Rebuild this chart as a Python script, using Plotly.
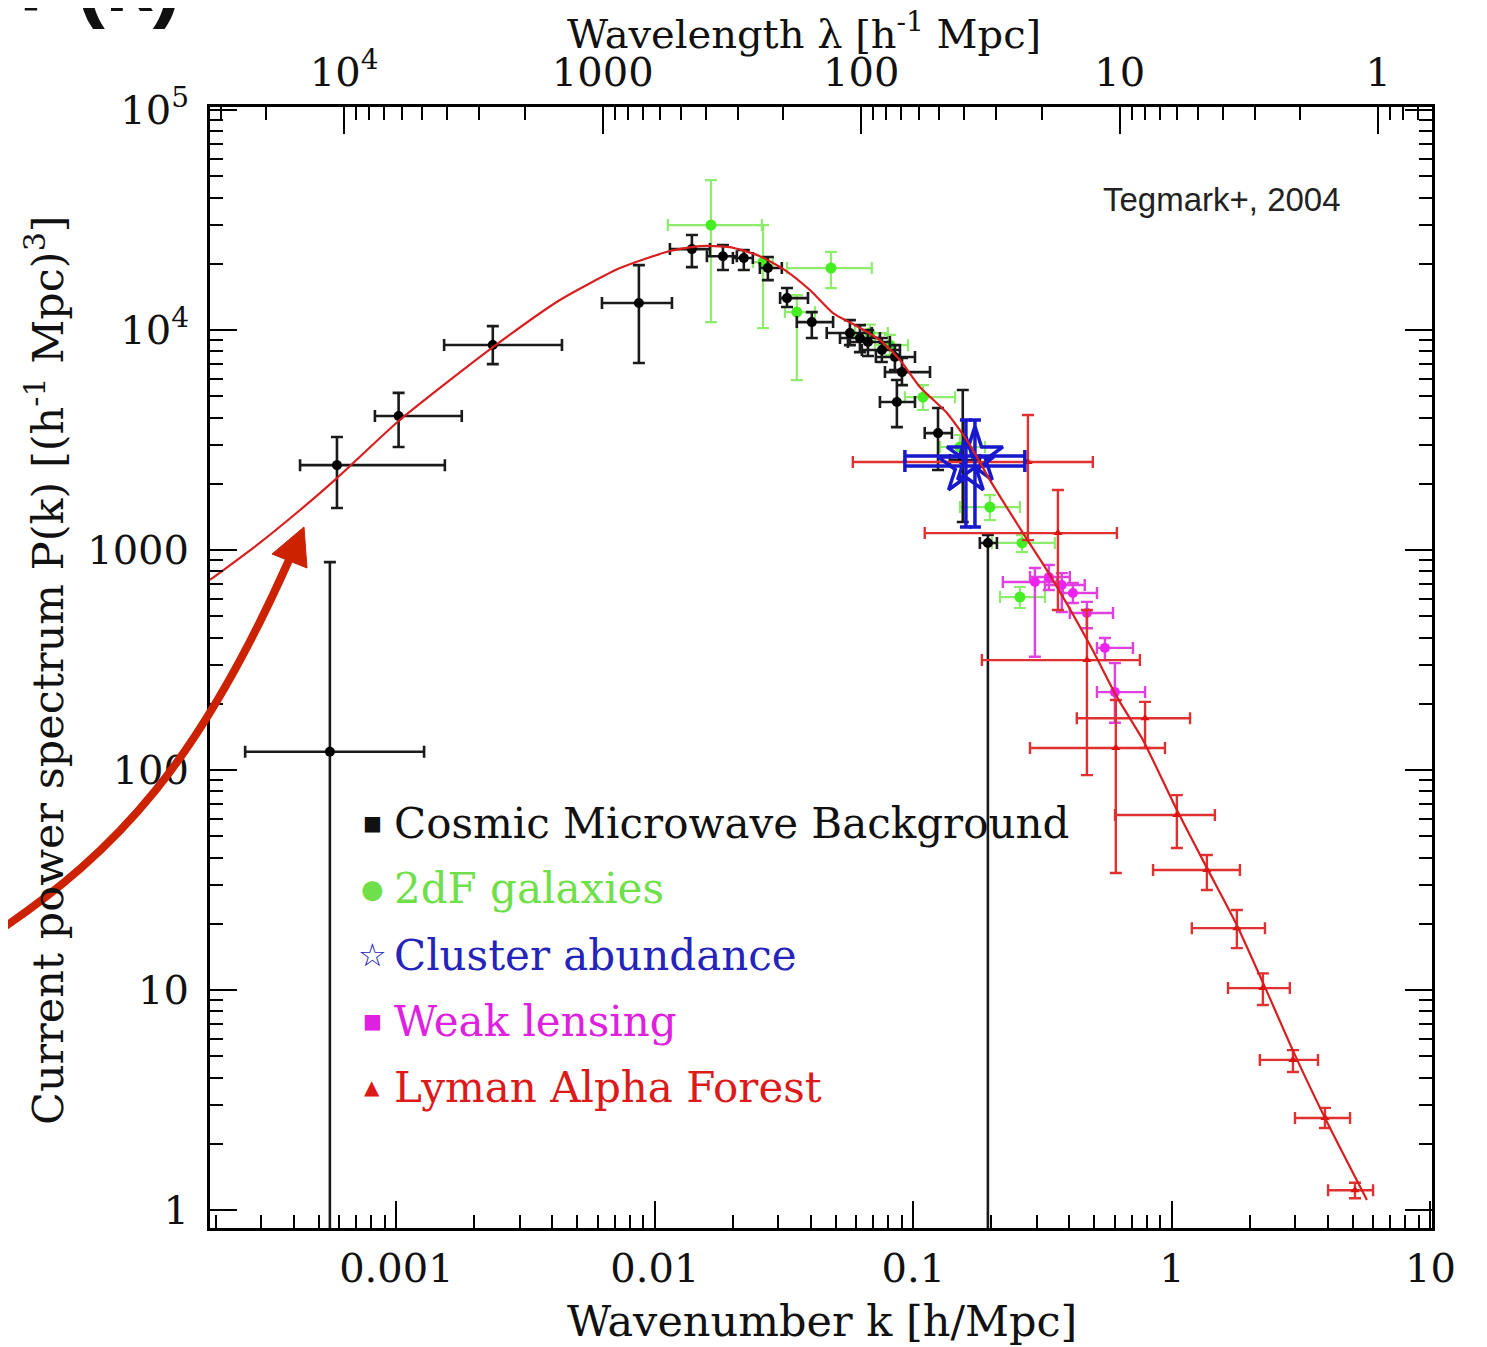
import math
import plotly.graph_objects as go

# ---------------- data ----------------
# Cosmic Microwave Background (black)
cmb_k = [5.53e-4, 5.89e-4, 1.02e-3, 2.36e-3, 8.67e-3, 0.0139, 0.01833, 0.02208, 0.02735, 0.03243,
         0.04045, 0.0568, 0.0621, 0.0667, 0.0755, 0.0848, 0.0903, 0.0863, 0.1245, 0.1552, 0.1941]
cmb_P = [121, 2432, 4065, 8550, 13270, 23330, 21670, 21250, 19140, 13970,
         10870, 9690, 9200, 8820, 8110, 7540, 6440, 4710, 3400, 2564, 1077]
cmb_klo = [2.6e-4, 4.24e-4, 8.26e-4, 1.53e-3, 6.24e-3, 0.01143, 0.01589, 0.02003, 0.02547, 0.0305,
           0.0354, 0.0462, 0.0520, 0.0558, 0.0632, 0.0716, 0.0776, 0.0742, 0.1106, 0.1384, 0.1807]
cmb_khi = [1.28e-3, 1.54e-3, 1.79e-3, 4.37e-3, 0.01164, 0.01633, 0.02075, 0.02393, 0.03097, 0.0391,
           0.0489, 0.0690, 0.0742, 0.0811, 0.0887, 0.1014, 0.1159, 0.1014, 0.1409, 0.1807, 0.2104]
cmb_Plo = [0, 1553, 2940, 7000, 7080, 19320, 18740, 18740, 16870, 12730,
           9200, 8540, 7940, 7620, 7160, 6580, 5620, 3620, 2310, 1340, 0]
cmb_Phi = [881, 3266, 5180, 10420, 19730, 27040, 24330, 23100, 21480, 15520,
           12070, 11100, 10530, 10000, 9200, 8540, 7470, 5925, 4420, 5340, 1170]

# 2dF galaxies (green)
gal_k = [0.01648, 0.02619, 0.04797, 0.0354, 0.0679, 0.0811, 0.1089, 0.1514, 0.1977, 0.2630, 0.2582]
gal_P = [30000, 20380, 19140, 12070, 9690, 8540, 4955, 2940, 1567, 1077, 611]
gal_klo = [0.01122, 0.02393, 0.03243, 0.03183, 0.0594, 0.0710, 0.0927, 0.1268, 0.1514, 0.2014, 0.2163]
gal_khi = [0.02594, 0.02857, 0.0690, 0.0416, 0.0796, 0.0953, 0.1449, 0.1892, 0.2582, 0.3524, 0.3228]
gal_Plo = [10870, 10210, 15520, 5925, 8900, 7700, 4330, 2564, 1368, 979, 545]
gal_Phi = [48060, 30000, 22650, 14420, 10600, 9500, 5620, 3334, 1778, 1170, 679]

# Cluster abundance (blue)
clu_k = [0.1596, 0.1730]
clu_P = [2410, 2675]
clu_klo = [0.0927, 0.0927]
clu_khi = [0.2698, 0.2698]
clu_Plo = [1274, 1274]
clu_Phi = [3900, 3900]

# Weak lensing (magenta)
wl_k = [0.2951, 0.3342, 0.3750, 0.414, 0.469, 0.5504, 0.6017]
wl_P = [716, 754, 693, 638, 517, 359, 226]
wl_klo = [0.2218, 0.2825, 0.3228, 0.3784, 0.4027, 0.5129, 0.5129]
wl_khi = [0.359, 0.4027, 0.460, 0.5129, 0.5916, 0.7063, 0.7871]
wl_Plo = [327, 658, 523, 574, 441, 316, 164]
wl_Phi = [828, 855, 785, 708, 581, 398, 306]

# Lyman Alpha Forest (red)
ly_k = [0.2773, 0.3622, 0.469, 0.7871, 0.6067, 1.045, 1.365, 1.783, 2.248, 2.938, 3.908, 5.105]
ly_P = [2512, 1194, 316, 172, 126, 62.4, 35.1, 19.1, 10.2, 4.81, 2.62, 1.23]
ly_klo = [0.0583, 0.1106, 0.184, 0.4285, 0.2825, 0.6026, 0.8452, 1.194, 1.648, 2.188, 2.992, 4.018]
ly_khi = [0.4943, 0.6124, 0.7516, 1.175, 0.9397, 1.466, 1.832, 2.29, 2.858, 3.673, 4.887, 5.998]
ly_Plo = [1109, 534, 94.8, 126, 34, 44.2, 28.5, 15.5, 8.55, 4.24, 2.36, 1.13]
ly_Phi = [4110, 1874, 534, 204, 208, 76.9, 41.1, 23.1, 11.9, 5.33, 2.91, 1.33]

# model power spectrum curve (red line)
mod_k = [1.90e-4, 2.96e-4, 4.24e-4, 5.89e-4, 1.03e-3, 1.61e-3, 2.51e-3, 4.29e-3, 7.33e-3, 0.01143,
         0.01493, 0.01950, 0.02547, 0.03183, 0.03978, 0.04886, 0.0594, 0.0742, 0.0887, 0.1059,
         0.1348, 0.1655, 0.1977, 0.2654, 0.3374, 0.4819, 0.6124, 0.7722, 1.045, 1.365,
         1.783, 2.29, 2.99, 3.98, 5.68]
mod_P = [731, 1077, 1520, 2124, 3900, 5925, 8820, 13700, 19140, 22870,
         24090, 23830, 21670, 18740, 15200, 11950, 10530, 9010, 7310, 5510,
         4200, 3000, 2080, 1194, 769, 370, 215, 137, 65.8, 35.9,
         19.7, 10.3, 5.07, 2.51, 1.11]

# axis ticks / labels
k_ticks = [0.001, 0.01, 0.1, 1, 10]
k_ticktext = ["0.001", "0.01", "0.1", "1", "10"]
lam_ticks = [1e4, 1000, 100, 10, 1]
lam_ticktext = ["10<sup>4</sup>", "1000", "100", "10", "1"]
P_ticks = [1, 10, 100, 1000, 1e4, 1e5]
P_ticktext = ["1", "10", "100", "1000", "10<sup>4</sup>", "10<sup>5</sup>"]

legend_labels = ["Cosmic Microwave Background", "2dF galaxies", "Cluster abundance",
                 "Weak lensing", "Lyman Alpha Forest"]
legend_symbols = ["■", "●", "<b>☆</b>", "■", "▲"]
legend_colors = ["#111111", "#6fe04a", "#2424bb", "#e020e0", "#dd1a1a"]

# ---------------- layout geometry ----------------
# the page body has an 8px margin, so the figure is placed 8px in from the top-left corner
OFF = 8
W, H = 1479, 1339
ML, MT = 210 - OFF, 107 - OFF
MR = W - (1432 - OFF)
MB = H - (1228 - OFF)
PW, PH = W - ML - MR, H - MT - MB
X_RANGE = [-3.721, 1.006]
Y_RANGE = [-0.082, 5.014]
LOG2PI = math.log10(2 * math.pi)


def px(x):  # page pixel -> paper x
    return (x - OFF - ML) / PW


def py(y):  # page pixel -> paper y
    return (H - MB - (y - OFF)) / PH


def errs(v, lo, hi):
    return ([h - c for c, h in zip(v, hi)], [c - l for c, l in zip(v, lo)])


def minor_vals(n0, n1):
    return [m * 10.0 ** n for n in range(n0, n1) for m in range(2, 10)]


fig = go.Figure()


def add_set(k, P, klo, khi, Plo, Phi, color, ecolor, symbol, size, name, lw=2.4, mline=0):
    ex_p, ex_m = errs(k, klo, khi)
    ey_p, ey_m = errs(P, Plo, Phi)
    fig.add_trace(go.Scatter(
        x=k, y=P, mode="markers", name=name, showlegend=False,
        marker=dict(symbol=symbol, size=size, color=color,
                    line=dict(color=color, width=mline)),
        error_x=dict(type="data", symmetric=False, array=ex_p, arrayminus=ex_m,
                     color=ecolor, thickness=lw, width=6),
        error_y=dict(type="data", symmetric=False, array=ey_p, arrayminus=ey_m,
                     color=ecolor, thickness=lw, width=6),
    ))


add_set(gal_k, gal_P, gal_klo, gal_khi, gal_Plo, gal_Phi, "#44ee22", "#8eec6c", "circle", 11, "2dF galaxies", lw=2.2)
add_set(cmb_k, cmb_P, cmb_klo, cmb_khi, cmb_Plo, cmb_Phi, "#000000", "#1a1a1a", "circle", 10, "Cosmic Microwave Background", lw=2.6)
add_set(wl_k, wl_P, wl_klo, wl_khi, wl_Plo, wl_Phi, "#ee22ee", "#e040e0", "circle", 10, "Weak lensing", lw=2.4)
add_set(ly_k, ly_P, ly_klo, ly_khi, ly_Plo, ly_Phi, "#e01010", "#e03030", "triangle-up", 8, "Lyman Alpha Forest", lw=2.4)
add_set(clu_k, clu_P, clu_klo, clu_khi, clu_Plo, clu_Phi, "#1818cc", "#1818cc", "star-open", 42, "Cluster abundance", lw=3.5, mline=3.5)

fig.add_trace(go.Scatter(x=mod_k, y=mod_P, mode="lines", showlegend=False,
                         line=dict(color="#d81e1e", width=2.2, shape="spline", smoothing=0.6),
                         hoverinfo="skip"))

# invisible helper trace so the top (wavelength) axis is drawn
fig.add_trace(go.Scatter(x=[100], y=[None], xaxis="x2", mode="markers",
                         showlegend=False, hoverinfo="skip", marker=dict(opacity=0)))

TICKFONT = dict(family="DejaVu Serif", size=40, color="#111111")
axis_common = dict(showgrid=False, zeroline=False, showline=True, linecolor="black", linewidth=3,
                   ticks="inside", ticklen=27, tickwidth=2, tickcolor="black", tickfont=TICKFONT)


def minor(vals):
    return dict(ticks="inside", ticklen=13, tickwidth=2, tickcolor="black",
                tickmode="array", tickvals=vals, showgrid=False)


fig.update_layout(
    width=W, height=H, margin=dict(l=ML, r=MR, t=MT, b=MB),
    paper_bgcolor="white", plot_bgcolor="white", showlegend=False,
    xaxis=dict(type="log", range=X_RANGE, tickmode="array", tickvals=k_ticks, ticktext=k_ticktext,
               mirror=True, ticklabelstandoff=3, minor=minor(minor_vals(-4, 1)), **axis_common),
    xaxis2=dict(type="log", overlaying="x", side="top", anchor="y",
                range=[LOG2PI - X_RANGE[0], LOG2PI - X_RANGE[1]],
                tickmode="array", tickvals=lam_ticks, ticktext=lam_ticktext, ticklabelstandoff=2,
                minor=minor(minor_vals(-1, 5)), **axis_common),
    yaxis=dict(type="log", range=Y_RANGE, tickmode="array", tickvals=P_ticks, ticktext=P_ticktext,
               mirror="ticks", ticklabelstandoff=10, minor=minor(minor_vals(0, 5)), **axis_common),
)

TITLEFONT = dict(family="DejaVu Serif", size=43, color="#111111")
ann = []
ann.append(dict(text="Wavenumber k [h/Mpc]", x=px(822), y=py(1321), xref="paper", yref="paper",
                showarrow=False, font=TITLEFONT, xanchor="center", yanchor="middle"))
ann.append(dict(text="Wavelength λ [h<sup>-1</sup> Mpc]", x=px(804), y=py(31), xref="paper", yref="paper",
                showarrow=False, font=dict(family="DejaVu Serif", size=40, color="#111111"),
                xanchor="center", yanchor="middle"))
ann.append(dict(text="Current power spectrum P(k) [(h<sup>-1</sup> Mpc)<sup>3</sup>]", x=px(45), y=py(670),
                xref="paper", yref="paper", showarrow=False, font=TITLEFONT, textangle=-90,
                xanchor="center", yanchor="middle"))
ann.append(dict(text="Tegmark+, 2004", x=px(1222), y=py(199), xref="paper", yref="paper",
                showarrow=False, font=dict(family="Liberation Sans", size=33, color="#222222"),
                xanchor="center", yanchor="middle"))
ann.append(dict(text="<b>P(k)</b>", x=px(18), y=py(30), xref="paper", yref="paper",
                showarrow=False, font=dict(family="Liberation Sans", size=86, color="#111111"),
                xanchor="left", yanchor="bottom", borderpad=0))

sym_sizes = [20, 26, 32, 20, 20]
for i, (lab, sym, col) in enumerate(zip(legend_labels, legend_symbols, legend_colors)):
    yc = 823 + 66 * i
    ann.append(dict(text=sym, x=px(372), y=py(yc), xref="paper", yref="paper", showarrow=False,
                    font=dict(family="DejaVu Sans", size=sym_sizes[i], color=col),
                    xanchor="center", yanchor="middle"))
    ann.append(dict(text=lab, x=px(392), y=py(yc), xref="paper", yref="paper", showarrow=False,
                    font=dict(family="DejaVu Serif", size=42, color=col),
                    xanchor="left", yanchor="middle"))
fig.update_layout(annotations=ann)

# red curved pointer arrow (decoration)
p0, c1, c2, p3 = (-6, 934), (120, 850), (200, 760), (289, 560)
path = "M {} {} C {} {} {} {} {} {}".format(px(p0[0]), py(p0[1]), px(c1[0]), py(c1[1]),
                                           px(c2[0]), py(c2[1]), px(p3[0]), py(p3[1]))
head = "M {} {} L {} {} L {} {} Z".format(px(304), py(527), px(272), py(554), px(307), py(568))
fig.add_shape(type="path", path=path, xref="paper", yref="paper", layer="above",
              line=dict(color="#cc2200", width=8))
fig.add_shape(type="path", path=head, xref="paper", yref="paper", layer="above",
              line=dict(color="#cc2200", width=1), fillcolor="#cc2200")

fig.write_html("out.html")
